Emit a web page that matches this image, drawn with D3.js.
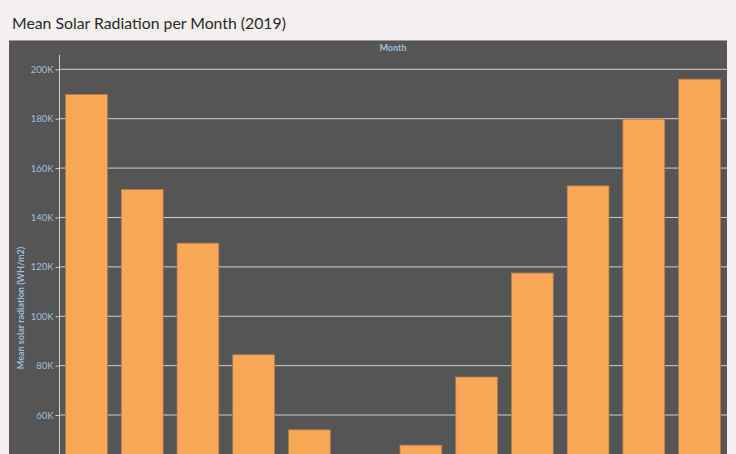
<!DOCTYPE html>
<html>
<head>
<meta charset="utf-8">
<script src="https://cdn.jsdelivr.net/npm/d3@7"></script>
<style>
  html, body { margin: 0; padding: 0; background: #f4f0ef; }
  svg { display: block; }
</style>
</head>
<body>
<div id="chart"></div>
<script>
const months = ['Jan', 'Feb', 'Mar', 'Apr', 'May', 'Jun', 'Jul', 'Aug', 'Sep', 'Oct', 'Nov', 'Dec'];
const radiation = [189800, 151300, 129600, 84400, 54000, 40000, 47800, 75400, 117500, 152800, 179800, 196000];
const yTicks = [60000, 80000, 100000, 120000, 140000, 160000, 180000, 200000];

const width = 736;
const height = 454;

const svg = d3.select('#chart')
  .append('svg')
  .attr('width', width)
  .attr('height', height);

// title
svg.append('text')
  .attr('x', 12)
  .attr('y', 29)
  .attr('fill', '#2b2b2b')
  .style('font-family', 'Lato, sans-serif')
  .style('font-size', '15.8px')
  .text('Mean Solar Radiation per Month (2019)');

// dark panel
svg.append('rect')
  .attr('x', 9)
  .attr('y', 40)
  .attr('width', 718)
  .attr('height', height)
  .attr('fill', '#555555');
svg.append('line')
  .attr('x1', 9).attr('x2', 727)
  .attr('y1', 40.5).attr('y2', 40.5)
  .attr('stroke', '#9a9a9a');

const x = d3.scaleBand()
  .domain(months)
  .range([60, 726])
  .paddingInner(0.25)
  .paddingOuter(0.1);

const y = d3.scaleLinear()
  .domain([0, 200000])
  .range([563.2, 69.3]);

// gridlines
svg.append('g')
  .selectAll('line')
  .data(yTicks)
  .enter()
  .append('line')
  .attr('x1', 59)
  .attr('x2', 727)
  .attr('y1', d => y(d))
  .attr('y2', d => y(d))
  .attr('stroke', '#cfcfcf')
  .attr('stroke-width', 1);

// y axis
const yAxis = svg.append('g')
  .attr('transform', 'translate(59.5,0)')
  .call(d3.axisLeft(y)
    .tickValues(yTicks)
    .tickSize(4)
    .tickPadding(2)
    .tickFormat(d => d3.format('d')(d / 1000) + 'K'));
yAxis.select('.domain').remove();
yAxis.selectAll('.tick line').attr('stroke', '#cfcfcf');
yAxis.selectAll('text')
  .attr('fill', '#9cbfdc')
  .style('font-family', 'Lato, sans-serif')
  .style('font-size', '9.5px');
svg.append('line')
  .attr('x1', 59.5).attr('x2', 59.5)
  .attr('y1', 55).attr('y2', height)
  .attr('stroke', '#cfcfcf');

// bars
svg.append('g')
  .selectAll('.bar')
  .data(months.map((m, i) => ({ month: m, value: radiation[i] })))
  .enter()
  .append('rect')
  .attr('class', 'bar')
  .attr('x', d => x(d.month))
  .attr('y', d => y(d.value))
  .attr('width', x.bandwidth())
  .attr('height', d => y(0) - y(d.value))
  .attr('fill', '#f9a757')
  .attr('stroke', '#b47c4a')
  .attr('stroke-width', 0.8);

// axis titles
svg.append('text')
  .attr('x', 393)
  .attr('y', 51)
  .attr('text-anchor', 'middle')
  .attr('fill', '#9cbfdc')
  .style('font-family', 'Lato, sans-serif')
  .style('font-size', '9px')
  .style('font-weight', 'bold')
  .text('Month');

svg.append('text')
  .attr('transform', 'translate(24,308) rotate(-90)')
  .attr('text-anchor', 'middle')
  .attr('fill', '#9cbfdc')
  .style('font-family', 'Lato, sans-serif')
  .style('font-size', '9px')
  .style('font-weight', 'bold')
  .text('Mean solar radiation (WH/m2)');
</script>
</body>
</html>
